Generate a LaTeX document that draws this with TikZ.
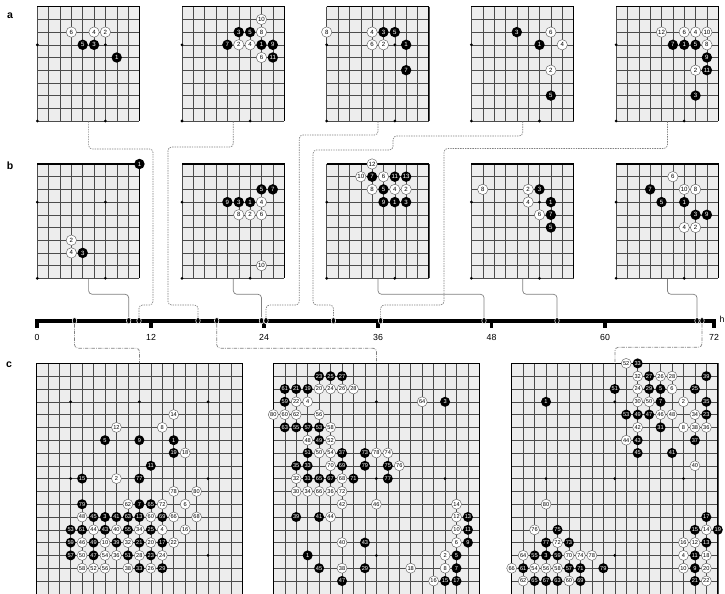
\documentclass[tikz,border=0pt]{standalone}
\usepackage{fontspec}
\setmainfont{Liberation Sans}
\usetikzlibrary{arrows.meta,positioning,shapes.geometric}

\newcommand{\partgrid}[1]{%
  \fill[black!7] (0,0) rectangle (9,9);
  \foreach \i in {0,...,9}{\draw[gridline] (\i,0) -- (\i,9); \draw[gridline] (0,\i) -- (9,\i);}
  \draw[edgeline] (0,0) -- (9,0) -- (9,9);
  \foreach \p/\q in {0/3,6/3,0/9,6/9}{\fill (\p,\q) circle (1.3pt);}
  \node[frame,minimum width=3.0645cm,minimum height=3.429cm] (#1) at (0,0) {};%
}
\newcommand{\fullgrid}[1]{%
  \fill[black!7] (0,0) rectangle (18,18.3);
  \foreach \i in {0,...,18}{\draw[gridline] (\i,0) -- (\i,18.3); \draw[gridline] (0,\i) -- (18,\i);}
  \draw[edgeline] (0,18.3) -- (0,0) -- (18,0) -- (18,18.3);
  \foreach \p in {3,9,15}{\foreach \q in {3,9,15}{\fill (\p,\q) circle (1.3pt);}}
  \node[frame,minimum width=6.183cm,minimum height=6.912cm] (#1) at (0,0) {};%
}
\newcommand{\wstones}[1]{\foreach \c/\r/\n in {#1}{\node[wstone] at (\c,\r) {\n};}}
\newcommand{\bstones}[1]{\foreach \c/\r/\n in {#1}{\node[bstone] at (\c,\r) {\n};}}

\begin{document}
\begin{tikzpicture}[
  x=0.03cm,y=-0.03cm,
  gridline/.style={black!70,line width=0.4pt},
  edgeline/.style={black,line width=1pt},
  frame/.style={inner sep=0pt,anchor=north west},
  stone/.style={circle,inner sep=0pt,minimum size=0.312cm,font=\fontsize{5.2}{5.2}\selectfont},
  wstone/.style={stone,fill=white,draw=black!65,line width=0.35pt},
  bstone/.style={stone,fill=black,text=white},
  small/.style={x=0.3405cm,y=-0.381cm},
  big/.style={x=0.3435cm,y=-0.384cm,stone/.append style={minimum size=0.3cm,font=\fontsize{4.8}{4.8}\selectfont}},
  conn/.style={black!50,line width=0.6pt,rounded corners=3pt},
  aline/.style={conn,dash pattern=on 1.2pt off 0.9pt},
  bline/.style={conn},
  cline/.style={conn,dash pattern=on 3pt off 1pt on 0.6pt off 1pt},
  timeline/.style={black,line width=3.3pt},
  tdot/.style={ellipse,fill=black,draw=white,line width=0.5pt,inner sep=0pt,minimum width=3.8pt,minimum height=5.4pt},
  hourlabel/.style={font=\fontsize{7.5}{8}\selectfont,inner sep=0pt},
  panel/.style={font=\bfseries\fontsize{9}{10}\selectfont,inner sep=0pt}
]
\useasboundingbox (0,0) rectangle (725,594);

\node[panel] (pa) at (10,16) {a};
\node[panel] (pb) at (10,166) {b};
\node[panel] (pc) at (9,365) {c};

\begin{scope}[shift={(37.3,6.7)},small]
\partgrid{a1}
\wstones{3/2/6,5/2/4,6/2/2}
\bstones{4/3/5,5/3/3,7/4/1}
\end{scope}
\begin{scope}[shift={(182,6.7)},small]
\partgrid{a2}
\wstones{7/1/10,7/2/8,5/3/2,6/3/4,7/4/6}
\bstones{5/2/3,6/2/5,4/3/7,7/3/1,8/3/9,8/4/11}
\end{scope}
\begin{scope}[shift={(326.7,6.7)},small]
\partgrid{a3}
\wstones{0/2/8,4/2/4,4/3/6,5/3/2}
\bstones{5/2/3,6/2/5,7/3/1,7/5/7}
\end{scope}
\begin{scope}[shift={(471.4,6.7)},small]
\partgrid{a4}
\wstones{7/2/6,8/3/4,7/5/2}
\bstones{4/2/3,6/3/1,7/7/5}
\end{scope}
\begin{scope}[shift={(616.1,6.7)},small]
\partgrid{a5}
\wstones{4/2/12,6/2/6,7/2/4,8/2/10,8/3/8,7/5/2}
\bstones{5/3/7,6/3/1,7/3/5,8/4/9,8/5/11,7/7/3}
\end{scope}

\begin{scope}[shift={(37.3,164)},small]
\partgrid{b1}
\wstones{3/6/2,3/7/4}
\bstones{9/0/1,4/7/3}
\end{scope}
\begin{scope}[shift={(182,164)},small]
\partgrid{b2}
\wstones{7/3/4,5/4/8,6/4/2,7/4/6,7/8/10}
\bstones{7/2/5,8/2/7,4/3/9,5/3/3,6/3/1}
\end{scope}
\begin{scope}[shift={(326.7,164)},small]
\partgrid{b3}
\wstones{4/0/12,3/1/10,5/1/6,4/2/8,6/2/4,7/2/2}
\bstones{4/1/7,6/1/11,7/1/13,5/2/5,5/3/9,6/3/1,7/3/3}
\end{scope}
\begin{scope}[shift={(471.4,164)},small]
\partgrid{b4}
\wstones{1/2/8,5/2/2,5/3/4,6/4/6}
\bstones{6/2/3,7/3/1,7/4/7,7/5/5}
\end{scope}
\begin{scope}[shift={(616.1,164)},small]
\partgrid{b5}
\wstones{5/1/6,6/2/10,7/2/8,6/5/4,7/5/2}
\bstones{3/2/7,4/3/5,6/3/1,7/4/3,8/4/9}
\end{scope}

\begin{scope}[shift={(36.3,363.4)},big]
\fullgrid{c1}
\wstones{12/4/14,7/5/12,11/5/8,13/7/18,7/9/2,12/10/78,14/10/80,8/11/62,11/11/72,13/11/6,4/12/48,10/12/60,12/12/66,14/12/68,5/13/44,7/13/40,9/13/34,11/13/4,13/13/16,4/14/46,6/14/10,8/14/32,10/14/20,12/14/22,4/15/50,6/15/54,7/15/36,9/15/28,11/15/24,4/16/58,5/16/52,6/16/56,8/16/38,10/16/26}
\bstones{6/6/5,9/6/9,12/6/1,12/7/19,10/8/11,4/9/15,9/9/77,4/11/79,9/11/7,10/11/65,5/12/45,6/12/3,7/12/41,8/12/63,9/12/13,11/12/69,3/13/53,4/13/61,6/13/43,8/13/55,10/13/25,3/14/59,5/14/49,7/14/39,9/14/21,11/14/17,3/15/57,5/15/47,8/15/51,10/15/23,9/16/33,11/16/29}
\end{scope}
\begin{scope}[shift={(273.3,363.4)},big]
\fullgrid{c2}
\wstones{4/2/20,5/2/24,6/2/26,7/2/28,2/3/22,3/3/4,13/3/64,0/4/80,1/4/60,2/4/62,4/4/56,5/5/58,3/6/48,5/6/52,4/7/50,5/7/54,9/7/78,10/7/74,5/8/70,11/8/76,2/9/32,6/9/68,2/10/30,3/10/34,4/10/66,5/10/36,6/10/72,6/11/42,9/11/46,16/11/14,5/12/44,16/12/12,16/13/10,6/14/40,16/14/6,15/15/2,6/16/38,12/16/18,15/16/8,14/17/16}
\bstones{4/1/23,5/1/25,6/1/27,1/2/61,2/2/21,3/2/19,1/3/59,15/3/3,1/5/63,2/5/55,3/5/57,4/5/53,4/6/49,3/7/51,6/7/37,8/7/73,2/8/35,3/8/33,6/8/69,8/8/79,10/8/75,3/9/31,4/9/65,5/9/67,7/9/71,10/9/77,2/12/39,4/12/41,17/12/13,17/13/11,8/14/43,17/14/9,3/15/1,16/15/5,4/16/45,8/16/29,16/16/7,6/17/47,15/17/15,16/17/17}
\end{scope}
\begin{scope}[shift={(511.7,363.4)},big]
\fullgrid{c3}
\wstones{10/0/52,11/1/32,13/1/26,14/1/28,11/2/24,14/2/6,11/3/30,12/3/50,15/3/2,13/4/46,14/4/48,16/4/34,11/5/42,15/5/8,16/5/38,17/5/36,10/6/44,16/8/40,3/11/80,2/13/76,17/13/14,4/14/72,15/14/16,16/14/12,1/15/64,5/15/70,6/15/74,7/15/78,15/15/4,17/15/18,0/16/66,2/16/54,3/16/56,4/16/58,15/16/10,17/16/20,1/17/62,5/17/60,17/17/22}
\bstones{11/0/33,12/1/27,17/1/39,9/2/51,12/2/29,13/2/5,16/2/25,3/3/1,13/3/7,17/3/35,10/4/53,11/4/49,12/4/47,17/4/23,13/5/31,11/6/43,16/6/37,11/7/45,14/7/41,17/12/17,4/13/75,16/13/15,18/13/19,3/14/77,5/14/73,17/14/13,2/15/55,3/15/3,4/15/59,16/15/11,1/16/61,5/16/57,6/16/71,8/16/79,16/16/9,2/17/65,3/17/67,4/17/63,6/17/69,16/17/21}
\end{scope}

\draw[timeline] (37,327.5) -- (37,320.7) -- (714,320.7) -- (714,327.5);
\foreach \x in {151,264,378,491.5,605}{\draw[timeline] (\x,320.7) -- (\x,327.5);}
\foreach \x/\h in {37/0,151/12,264/24,378/36,491.5/48,605/60,714/72}{\node[hourlabel] (h\h) at (\x,337.5) {\h};}
\node[hourlabel] (unit) at (722,319.5) {h};

\node[tdot] (t1) at (74.5,320.7) {};
\node[tdot] (t2) at (128.7,320.7) {};
\node[tdot] (t3) at (139,320.7) {};
\node[tdot] (t4) at (198,320.7) {};
\node[tdot] (t5) at (216.7,320.7) {};
\node[tdot] (t6) at (261.5,320.7) {};
\node[tdot] (t7) at (266,320.7) {};
\node[tdot] (t8) at (333.4,320.7) {};
\node[tdot] (t9) at (380.6,320.7) {};
\node[tdot] (t10) at (484,320.7) {};
\node[tdot] (t11) at (557,320.7) {};
\node[tdot] (t12) at (697,320.7) {};
\node[tdot] (t13) at (702,320.7) {};

\draw[aline] (a1.south) |- (153,149) -- (153,305) -| (t3);
\draw[aline] (a2.south) |- (168,147) -- (168,305) -| (t4);
\draw[aline] (a3.south) |- (299.3,135) -- (299.3,305) -| (t7);
\draw[aline] (a4.south) |- (393,136) |- (313,150) -- (313,305) -| (t8);
\draw[aline] (a5.south) |- (444,148.5) -- (444,305) -| (t9);

\draw[bline] (b1.south) -- ++(0,15.5) -| (t2);
\draw[bline] (b2.south) -- ++(0,15.5) -| (t6);
\draw[bline] (b3.south) -- ++(0,15.5) -| (t10);
\draw[bline] (b4.south) -- ++(0,15.5) -| (t11);
\draw[bline] (b5.south) -- ++(0,15.5) -| (t12);

\draw[cline] (t1) -- ++(0,27.5) -| (c1.north);
\draw[cline] (t5) -- ++(0,27.5) -| (c2.north);
\draw[cline] (t13) -- ++(0,26.5) -| (c3.north);
\end{tikzpicture}
\end{document}
